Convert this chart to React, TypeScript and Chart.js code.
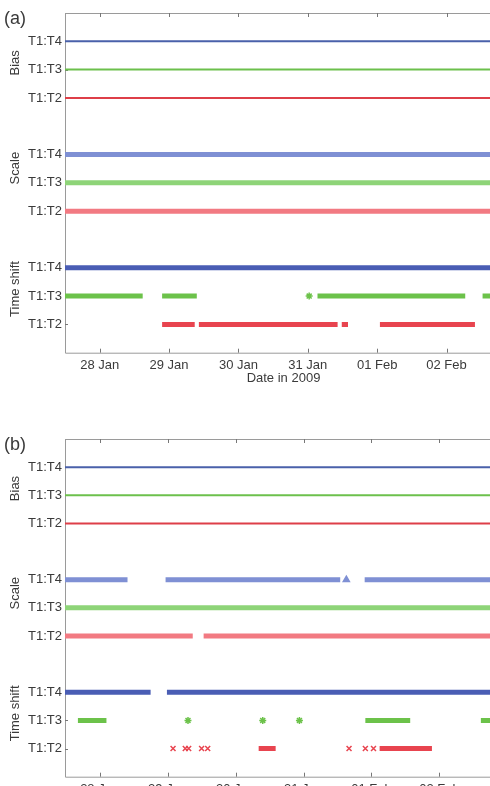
import React, { useEffect, useRef } from 'react';
import { Chart, registerables } from 'chart.js';

Chart.register(...registerables);

// ---------- shared axis content ----------
const dayTicks = [28, 29, 30, 31, 32, 33];
const dayLabels = ['28 Jan', '29 Jan', '30 Jan', '31 Jan', '01 Feb', '02 Feb'];
const rowValues = [1, 2, 3, 5, 6, 7, 9, 10, 11];
const rowLabels = ['T1:T2', 'T1:T3', 'T1:T4', 'T1:T2', 'T1:T3', 'T1:T4', 'T1:T2', 'T1:T3', 'T1:T4'];
const groupNames = ['Time shift', 'Scale', 'Bias'];
const xTitle = 'Date in 2009';

// ---------- panel (a): intervals [start, end] in days of Jan 2009 ----------
const aBiasT4 = [[27.3, 34.2]];
const aBiasT3 = [[27.3, 34.2]];
const aBiasT2 = [[27.3, 34.2]];
const aScaleT4 = [[27.3, 34.2]];
const aScaleT3 = [[27.3, 34.2]];
const aScaleT2 = [[27.3, 34.2]];
const aTimeT4 = [[27.3, 34.2]];
const aTimeT3 = [[27.3, 28.62], [28.9, 29.4], [31.02, 31.02], [31.14, 33.27], [33.52, 34.2]];
const aTimeT2 = [[28.9, 29.37], [29.43, 31.43], [31.49, 31.58], [32.04, 33.41]];

// ---------- panel (b) ----------
const bBiasT4 = [[27.3, 34.2]];
const bBiasT3 = [[27.3, 34.2]];
const bBiasT2 = [[27.3, 34.2]];
const bScaleT4 = [[27.3, 28.41], [28.97, 31.54], [31.63, 31.63], [31.9, 34.2]];
const bScaleT3 = [[27.3, 34.2]];
const bScaleT2 = [[27.3, 29.37], [29.53, 34.2]];
const bTimeT4 = [[27.3, 28.75], [28.99, 34.2]];
const bTimeT3 = [[27.68, 28.1], [29.3, 29.3], [30.4, 30.4], [30.94, 30.94], [31.91, 32.57], [33.61, 34.2]];
const bTimeT2 = [
  [29.08, 29.08], [29.26, 29.26], [29.31, 29.31], [29.5, 29.5], [29.59, 29.59],
  [30.34, 30.59], [31.67, 31.67], [31.91, 31.91], [32.03, 32.03], [32.12, 32.89],
];

// ---------- styling ----------
const FONT = "'Liberation Sans', Arial, Helvetica, sans-serif";
const TEXT = '#3a3a3a';
const AXIS = '#9a9a9a';

const C = {
  biasBlue: '#4a61aa',
  biasGreen: '#6cc04c',
  biasRed: '#de3f48',
  scaleBlue: '#7f90d4',
  scaleGreen: '#8ed478',
  scaleRed: '#f27a82',
  timeBlue: '#4a5db4',
  timeGreen: '#6cc24a',
  timeRed: '#e8444f',
};

interface Row { y: number; color: string; width: number; marker: string; ivs: number[][] }

function rowsFor(p: 'a' | 'b'): Row[] {
  const a = p === 'a';
  return [
    { y: 11, color: C.biasBlue, width: 2, marker: 'line', ivs: a ? aBiasT4 : bBiasT4 },
    { y: 10, color: C.biasGreen, width: 2, marker: 'line', ivs: a ? aBiasT3 : bBiasT3 },
    { y: 9, color: C.biasRed, width: 2, marker: 'line', ivs: a ? aBiasT2 : bBiasT2 },
    { y: 7, color: C.scaleBlue, width: 5, marker: 'triangle', ivs: a ? aScaleT4 : bScaleT4 },
    { y: 6, color: C.scaleGreen, width: 5, marker: 'triangle', ivs: a ? aScaleT3 : bScaleT3 },
    { y: 5, color: C.scaleRed, width: 5, marker: 'triangle', ivs: a ? aScaleT2 : bScaleT2 },
    { y: 3, color: C.timeBlue, width: 5, marker: 'star', ivs: a ? aTimeT4 : bTimeT4 },
    { y: 2, color: C.timeGreen, width: 5, marker: 'star', ivs: a ? aTimeT3 : bTimeT3 },
    { y: 1, color: C.timeRed, width: 5, marker: 'crossRot', ivs: a ? aTimeT2 : bTimeT2 },
  ];
}

function toData(row: Row) {
  const out: any[] = [];
  row.ivs.forEach(([s, e]) => {
    const single = s === e;
    out.push({ x: s, y: row.y, s: single });
    if (!single) out.push({ x: e, y: row.y, s: false });
    out.push({ x: e, y: null, s: false });
  });
  return out;
}

const framePlugin = {
  id: 'frame',
  beforeDatasetsDraw(chart: any) {
    const { ctx, chartArea } = chart;
    const { left, right, top, bottom } = chartArea;
    const xs = chart.scales.x;
    const ys = chart.scales.y;
    ctx.save();
    ctx.strokeStyle = AXIS;
    ctx.lineWidth = 1;
    ctx.beginPath();
    ctx.moveTo(left + 0.5, top + 0.5);
    ctx.lineTo(right, top + 0.5);
    ctx.moveTo(left + 0.5, top);
    ctx.lineTo(left + 0.5, bottom + 0.5);
    ctx.lineTo(right, bottom + 0.5);
    ctx.stroke();
    ctx.strokeStyle = '#777';
    ctx.beginPath();
    dayTicks.forEach((d) => {
      const px = Math.round(xs.getPixelForValue(d)) + 0.5;
      ctx.moveTo(px, top);
      ctx.lineTo(px, top + 4);
      ctx.moveTo(px, bottom);
      ctx.lineTo(px, bottom - 4);
    });
    rowValues.forEach((v) => {
      const py = Math.round(ys.getPixelForValue(v)) + 0.5;
      ctx.moveTo(left, py);
      ctx.lineTo(left + 3, py);
    });
    ctx.stroke();
    ctx.restore();
  },
  afterDraw(chart: any, _args: any, opts: any) {
    const { ctx } = chart;
    const ys = chart.scales.y;
    ctx.save();
    ctx.fillStyle = TEXT;
    ctx.font = `13px ${FONT}`;
    ctx.textAlign = 'center';
    ctx.textBaseline = 'middle';
    (opts.groupCenters || []).forEach((v: number, i: number) => {
      const py = ys.getPixelForValue(v);
      ctx.save();
      ctx.translate(15.5, py);
      ctx.rotate(-Math.PI / 2);
      ctx.fillText(groupNames[i], 0, 0);
      ctx.restore();
    });
    ctx.font = `18px ${FONT}`;
    ctx.textAlign = 'left';
    ctx.fillText(opts.letter || '', 4, 19);
    ctx.restore();
  },
};

function makeConfig(p: 'a' | 'b', xMin: number, xMax: number): any {
  const rows = rowsFor(p);
  return {
    type: 'line',
    data: {
      datasets: rows.map((r) => ({
        data: toData(r),
        borderColor: r.color,
        backgroundColor: r.color,
        borderWidth: r.width,
        borderCapStyle: 'butt',
        pointStyle: r.marker === 'line' ? 'circle' : r.marker,
        pointRadius: (c: any) => (c.raw && c.raw.s ? 3.5 : 0),
        pointBorderColor: r.color,
        pointBackgroundColor: r.color,
        pointBorderWidth: 1.5,
        spanGaps: false,
        tension: 0,
        fill: false,
      })),
    },
    options: {
      animation: false,
      responsive: false,
      events: [],
      layout: { padding: { top: 13, left: 0, right: 0, bottom: 0 } },
      plugins: {
        legend: { display: false },
        tooltip: { enabled: false },
        frame: { letter: p === 'a' ? '(a)' : '(b)', groupCenters: [2.25, 6.52, 10.24] },
      },
      scales: {
        x: {
          type: 'linear',
          min: xMin,
          max: xMax,
          grid: { display: false, drawTicks: false },
          border: { display: false },
          afterBuildTicks: (s: any) => {
            s.ticks = dayTicks.map((v) => ({ value: v }));
          },
          afterFit: (s: any) => {
            s.height = 42.3;
          },
          ticks: {
            padding: 5,
            maxRotation: 0,
            autoSkip: false,
            color: TEXT,
            font: { size: 13, family: FONT },
            callback: (v: number) => {
              const i = dayTicks.indexOf(v);
              return i >= 0 ? dayLabels[i] : '';
            },
          },
          title: {
            display: true,
            text: xTitle,
            color: TEXT,
            font: { size: 13, family: FONT },
            padding: { top: 0, bottom: 9.2 },
          },
        },
        y: {
          type: 'linear',
          min: 0,
          max: 12,
          grid: { display: false, drawTicks: false },
          border: { display: false },
          afterBuildTicks: (s: any) => {
            s.ticks = rowValues.map((v) => ({ value: v }));
          },
          afterFit: (s: any) => {
            s.width = 65;
          },
          ticks: {
            padding: 3,
            autoSkip: false,
            color: TEXT,
            font: { size: 13, family: FONT },
            callback: (v: number) => {
              const i = rowValues.indexOf(v);
              return i >= 0 ? rowLabels[i] : '';
            },
          },
        },
      },
    },
    plugins: [framePlugin],
  };
}

function Panel({ p, top, height, xMin, xMax }: { p: 'a' | 'b'; top: number; height: number; xMin: number; xMax: number }) {
  const ref = useRef<HTMLCanvasElement>(null);
  useEffect(() => {
    if (!ref.current) return;
    const chart = new Chart(ref.current, makeConfig(p, xMin, xMax));
    return () => chart.destroy();
  }, [p, xMin, xMax]);
  return (
    <canvas
      ref={ref}
      width={502}
      height={height}
      style={{ position: 'absolute', left: 0, top, width: 502, height }}
    />
  );
}

export default function App() {
  return (
    <div
      style={{
        position: 'absolute',
        left: 0,
        top: 0,
        width: 490,
        height: 786,
        overflow: 'hidden',
        background: '#ffffff',
      }}
    >
      <Panel p="a" top={0} height={395} xMin={27.5} xMax={33.8} />
      <Panel p="b" top={426} height={393} xMin={27.49} xMax={33.84} />
    </div>
  );
}
